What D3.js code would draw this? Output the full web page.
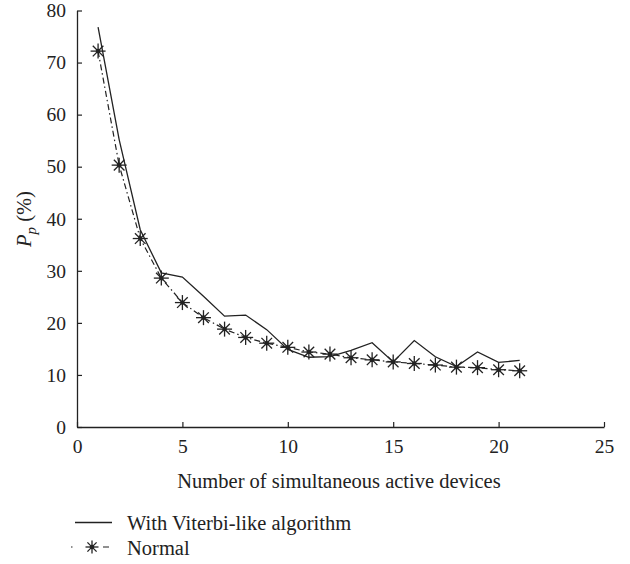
<!DOCTYPE html>
<html><head><meta charset="utf-8">
<script src="https://cdn.jsdelivr.net/npm/d3@7"></script>
<style>
body{margin:0;background:#fff;}
svg{display:block;}
text{font-family:"Liberation Serif","DejaVu Serif",serif;fill:#222;}
</style></head>
<body><svg id="c" width="630" height="564"></svg>
<script>
const devices = [1,2,3,4,5,6,7,8,9,10,11,12,13,14,15,16,17,18,19,20,21];
const viterbi = [76.8,55.2,37.9,29.6,28.8,25.1,21.3,21.5,18.7,14.9,13.4,13.5,14.7,16.2,12.5,16.6,13.5,11.6,14.4,12.4,12.8];
const normal  = [72.2,50.3,36.2,28.6,23.9,21.0,18.8,17.2,16.1,15.3,14.4,14.0,13.3,12.9,12.5,12.2,11.9,11.5,11.4,11.0,10.8];
const xTicks = [0,5,10,15,20,25];
const yTicks = [0,10,20,30,40,50,60,70,80];
const seriesNames = ["With Viterbi-like algorithm","Normal"];

const svg = d3.select("#c");
const x = d3.scaleLinear().domain([0,25]).range([77,604]);
const y = d3.scaleLinear().domain([0,80]).range([427,10.5]);
const ink = "#222";

// axes
const xa = svg.append("g").attr("transform","translate(0,427)")
  .call(d3.axisBottom(x).tickValues(xTicks).tickSize(-5).tickPadding(12.5).tickSizeOuter(0));
const ya = svg.append("g").attr("transform","translate(77,0)")
  .call(d3.axisLeft(y).tickValues(yTicks).tickSize(-5).tickPadding(11).tickSizeOuter(0));
[xa,ya].forEach(a=>{
  a.select(".domain").attr("stroke",ink).attr("stroke-width",1.3);
  a.selectAll(".tick line").attr("stroke",ink).attr("stroke-width",1.2);
  a.selectAll(".tick text").attr("font-size",19.5).attr("font-family","Liberation Serif, serif").attr("fill",ink);
});

// lines
const line = d3.line().x((d,i)=>x(devices[i])).y(d=>y(d));
svg.append("path").datum(viterbi).attr("d",line).attr("fill","none")
  .attr("stroke",ink).attr("stroke-width",1.3);
svg.append("path").datum(normal).attr("d",line).attr("fill","none")
  .attr("stroke",ink).attr("stroke-width",1.2).attr("stroke-dasharray","6,3,1.5,3");

function star(g, cx, cy, r){
  const s = g.append("g").attr("transform",`translate(${cx},${cy})`);
  for(let k=0;k<4;k++){
    const a = k*Math.PI/4;
    s.append("line").attr("x1",-r*Math.cos(a)).attr("y1",-r*Math.sin(a))
      .attr("x2",r*Math.cos(a)).attr("y2",r*Math.sin(a))
      .attr("stroke",ink).attr("stroke-width",1.3);
  }
  s.append("circle").attr("r",2.3).attr("fill",ink);
}
const mk = svg.append("g");
normal.forEach((v,i)=>star(mk, x(devices[i]), y(v), 7.5));

// axis labels
svg.append("text").attr("x",339).attr("y",488).attr("text-anchor","middle")
  .attr("font-size",20.5).text("Number of simultaneous active devices");
const yl = svg.append("text").attr("transform","translate(31,219) rotate(-90)")
  .attr("text-anchor","middle").attr("font-size",20.5);
yl.append("tspan").attr("font-style","italic").text("P");
yl.append("tspan").attr("font-style","italic").attr("font-size",15).attr("dy",4.5).text("p");
yl.append("tspan").attr("dy",-4.5).text(" (%)");

// legend
svg.append("line").attr("x1",75).attr("x2",112).attr("y1",522.5).attr("y2",522.5)
  .attr("stroke",ink).attr("stroke-width",1.3);
svg.append("text").attr("x",127).attr("y",530).attr("font-size",20.5).text(seriesNames[0]);
svg.append("line").attr("x1",71).attr("x2",110).attr("y1",547).attr("y2",547)
  .attr("stroke",ink).attr("stroke-width",1.2).attr("stroke-dasharray","1.5,30.5,6,10");
star(svg, 92, 547, 6.5);
svg.append("text").attr("x",127).attr("y",555).attr("font-size",20.5).text(seriesNames[1]);
</script></body></html>
